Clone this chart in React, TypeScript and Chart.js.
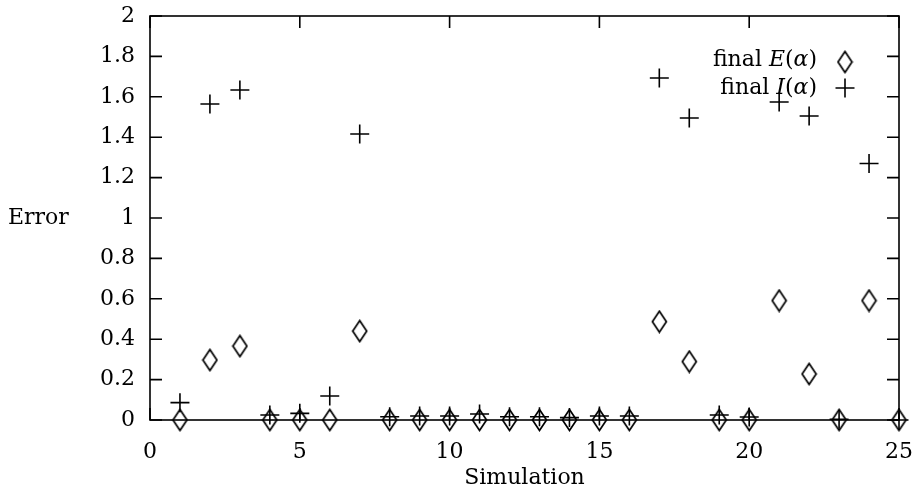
import React, { useEffect, useRef } from "react";
import { Chart, registerables } from "chart.js";

Chart.register(...registerables);

// ---- data ----
const simulations = [1, 2, 3, 4, 5, 6, 7, 8, 9, 10, 11, 12, 13, 14, 15, 16, 17, 18, 19, 20, 21, 22, 23, 24, 25];
const finalE = [0, 0.297, 0.366, 0, 0, 0, 0.44, 0, 0, 0, 0, 0, 0, 0, 0, 0, 0.487, 0.289, 0, 0, 0.591, 0.228, 0, 0.591, 0];
const finalI = [0.086, 1.564, 1.634, 0.025, 0.033, 0.119, 1.416, 0.016, 0.02, 0.02, 0.03, 0.016, 0.016, 0.012, 0.02, 0.02, 1.693, 1.495, 0.025, 0.015, 1.574, 1.505, 0.004, 1.27, 0];
const xTicks = [0, 5, 10, 15, 20, 25];
const yTicks = [0, 0.2, 0.4, 0.6, 0.8, 1, 1.2, 1.4, 1.6, 1.8, 2];
const xTitle = "Simulation";
const yTitle = "Error";

const FONT_FAMILY = '"DejaVu Serif", "Liberation Serif", serif';
const FONT_SIZE = 22;

function makeDiamond(): HTMLCanvasElement {
  const c = document.createElement("canvas");
  c.width = 17;
  c.height = 24;
  const g = c.getContext("2d")!;
  g.strokeStyle = "#000";
  g.lineWidth = 1.7;
  g.beginPath();
  g.moveTo(8.5, 1.5);
  g.lineTo(15.5, 12);
  g.lineTo(8.5, 22.5);
  g.lineTo(1.5, 12);
  g.closePath();
  g.stroke();
  return c;
}

export default function App() {
  const ref = useRef<HTMLCanvasElement | null>(null);

  useEffect(() => {
    if (!ref.current) return;
    const diamond = makeDiamond();

    const framePlugin = {
      id: "gnuplotFrame",
      beforeDatasetsDraw(chart: any) {
        const { ctx, chartArea } = chart;
        const xs = chart.scales.x;
        const ys = chart.scales.y;
        const { left, right, top, bottom } = chartArea;
        ctx.save();
        ctx.strokeStyle = "#000";
        ctx.lineWidth = 1.6;
        ctx.strokeRect(left, top, right - left, bottom - top);
        const tl = 12;
        ctx.beginPath();
        xTicks.forEach((v) => {
          const px = xs.getPixelForValue(v);
          ctx.moveTo(px, bottom);
          ctx.lineTo(px, bottom - tl);
          ctx.moveTo(px, top);
          ctx.lineTo(px, top + tl);
        });
        yTicks.forEach((v) => {
          const py = ys.getPixelForValue(v);
          ctx.moveTo(left, py);
          ctx.lineTo(left + tl, py);
          ctx.moveTo(right, py);
          ctx.lineTo(right - tl, py);
        });
        ctx.stroke();
        ctx.restore();
      },
      afterDraw(chart: any) {
        const { ctx, chartArea } = chart;
        const ys = chart.scales.y;
        const { left, right } = chartArea;
        ctx.save();
        // axis titles
        ctx.fillStyle = "#000";
        ctx.strokeStyle = "#000";
        ctx.font = `${FONT_SIZE}px ${FONT_FAMILY}`;
        ctx.textBaseline = "middle";
        ctx.textAlign = "left";
        ctx.fillText(yTitle, 8, ys.getPixelForValue(1));
        ctx.textAlign = "center";
        ctx.fillText(xTitle, (left + right) / 2, 478);

        // legend
        const normal = `${FONT_SIZE}px ${FONT_FAMILY}`;
        const italic = `italic ${FONT_SIZE}px ${FONT_FAMILY}`;
        const rows = [
          { parts: [["final ", normal], ["E", italic], ["(", normal], ["α", italic], [")", normal]], y: 60, sym: "diamond" },
          { parts: [["final ", normal], ["I", italic], ["(", normal], ["α", italic], [")", normal]], y: 88, sym: "cross" },
        ];
        const textRight = 817;
        const symX = 845;
        ctx.textAlign = "left";
        ctx.textBaseline = "middle";
        rows.forEach((row) => {
          let total = 0;
          row.parts.forEach(([t, f]) => {
            ctx.font = f;
            total += ctx.measureText(t).width;
          });
          let x = textRight - total;
          row.parts.forEach(([t, f]) => {
            ctx.font = f;
            ctx.fillText(t, x, row.y);
            x += ctx.measureText(t).width;
          });
          if (row.sym === "diamond") {
            ctx.drawImage(diamond, symX - diamond.width / 2, row.y + 2 - diamond.height / 2);
          } else {
            ctx.lineWidth = 1.6;
            ctx.beginPath();
            ctx.moveTo(symX - 9.5, row.y);
            ctx.lineTo(symX + 9.5, row.y);
            ctx.moveTo(symX, row.y - 9.5);
            ctx.lineTo(symX, row.y + 9.5);
            ctx.stroke();
          }
        });
        ctx.restore();
      },
    };

    const chart = new Chart(ref.current, {
      type: "scatter",
      data: {
        datasets: [
          {
            label: "final E(α)",
            data: simulations.map((s, i) => ({ x: s, y: finalE[i] })),
            pointStyle: diamond as any,
            pointRadius: 10,
            borderColor: "#000",
            backgroundColor: "rgba(0,0,0,0)",
            clip: false,
          },
          {
            label: "final I(α)",
            data: simulations.map((s, i) => ({ x: s, y: finalI[i] })),
            pointStyle: "cross",
            pointRadius: 9.5,
            borderWidth: 1.6,
            borderColor: "#000",
            backgroundColor: "#000",
            clip: false,
          },
        ],
      },
      options: {
        animation: false,
        responsive: false,
        maintainAspectRatio: false,
        devicePixelRatio: 1,
        layout: { padding: { top: 16, right: 17, left: 0, bottom: 0 } },
        plugins: {
          legend: { display: false },
          tooltip: { enabled: false },
        },
        scales: {
          x: {
            type: "linear",
            min: 0,
            max: 25,
            afterBuildTicks: (scale: any) => {
              scale.ticks = xTicks.map((v) => ({ value: v }));
            },
            ticks: {
              color: "#000",
              font: { family: FONT_FAMILY, size: FONT_SIZE },
              padding: 19,
              maxRotation: 0,
            },
            grid: { display: false, drawTicks: false },
            border: { display: false },
            afterFit: (scale: any) => {
              scale.height = 75;
              scale.paddingLeft = 0;
              scale.paddingRight = 0;
            },
          },
          y: {
            type: "linear",
            min: 0,
            max: 2,
            afterBuildTicks: (scale: any) => {
              scale.ticks = yTicks.map((v) => ({ value: v }));
            },
            ticks: {
              color: "#000",
              font: { family: FONT_FAMILY, size: FONT_SIZE },
              padding: 15,
              callback: (v: any) => String(Number(Number(v).toFixed(1))),
            },
            grid: { display: false, drawTicks: false },
            border: { display: false },
            afterFit: (scale: any) => {
              scale.width = 150;
              scale.paddingTop = 0;
              scale.paddingBottom = 0;
            },
          },
        },
      },
      plugins: [framePlugin],
    });
    return () => chart.destroy();
  }, []);

  return (
    <div style={{ position: "fixed", left: 0, top: 0, width: 916, height: 495, background: "#fff" }}>
      <canvas ref={ref} width={916} height={495} style={{ display: "block", width: 916, height: 495 }} />
    </div>
  );
}
